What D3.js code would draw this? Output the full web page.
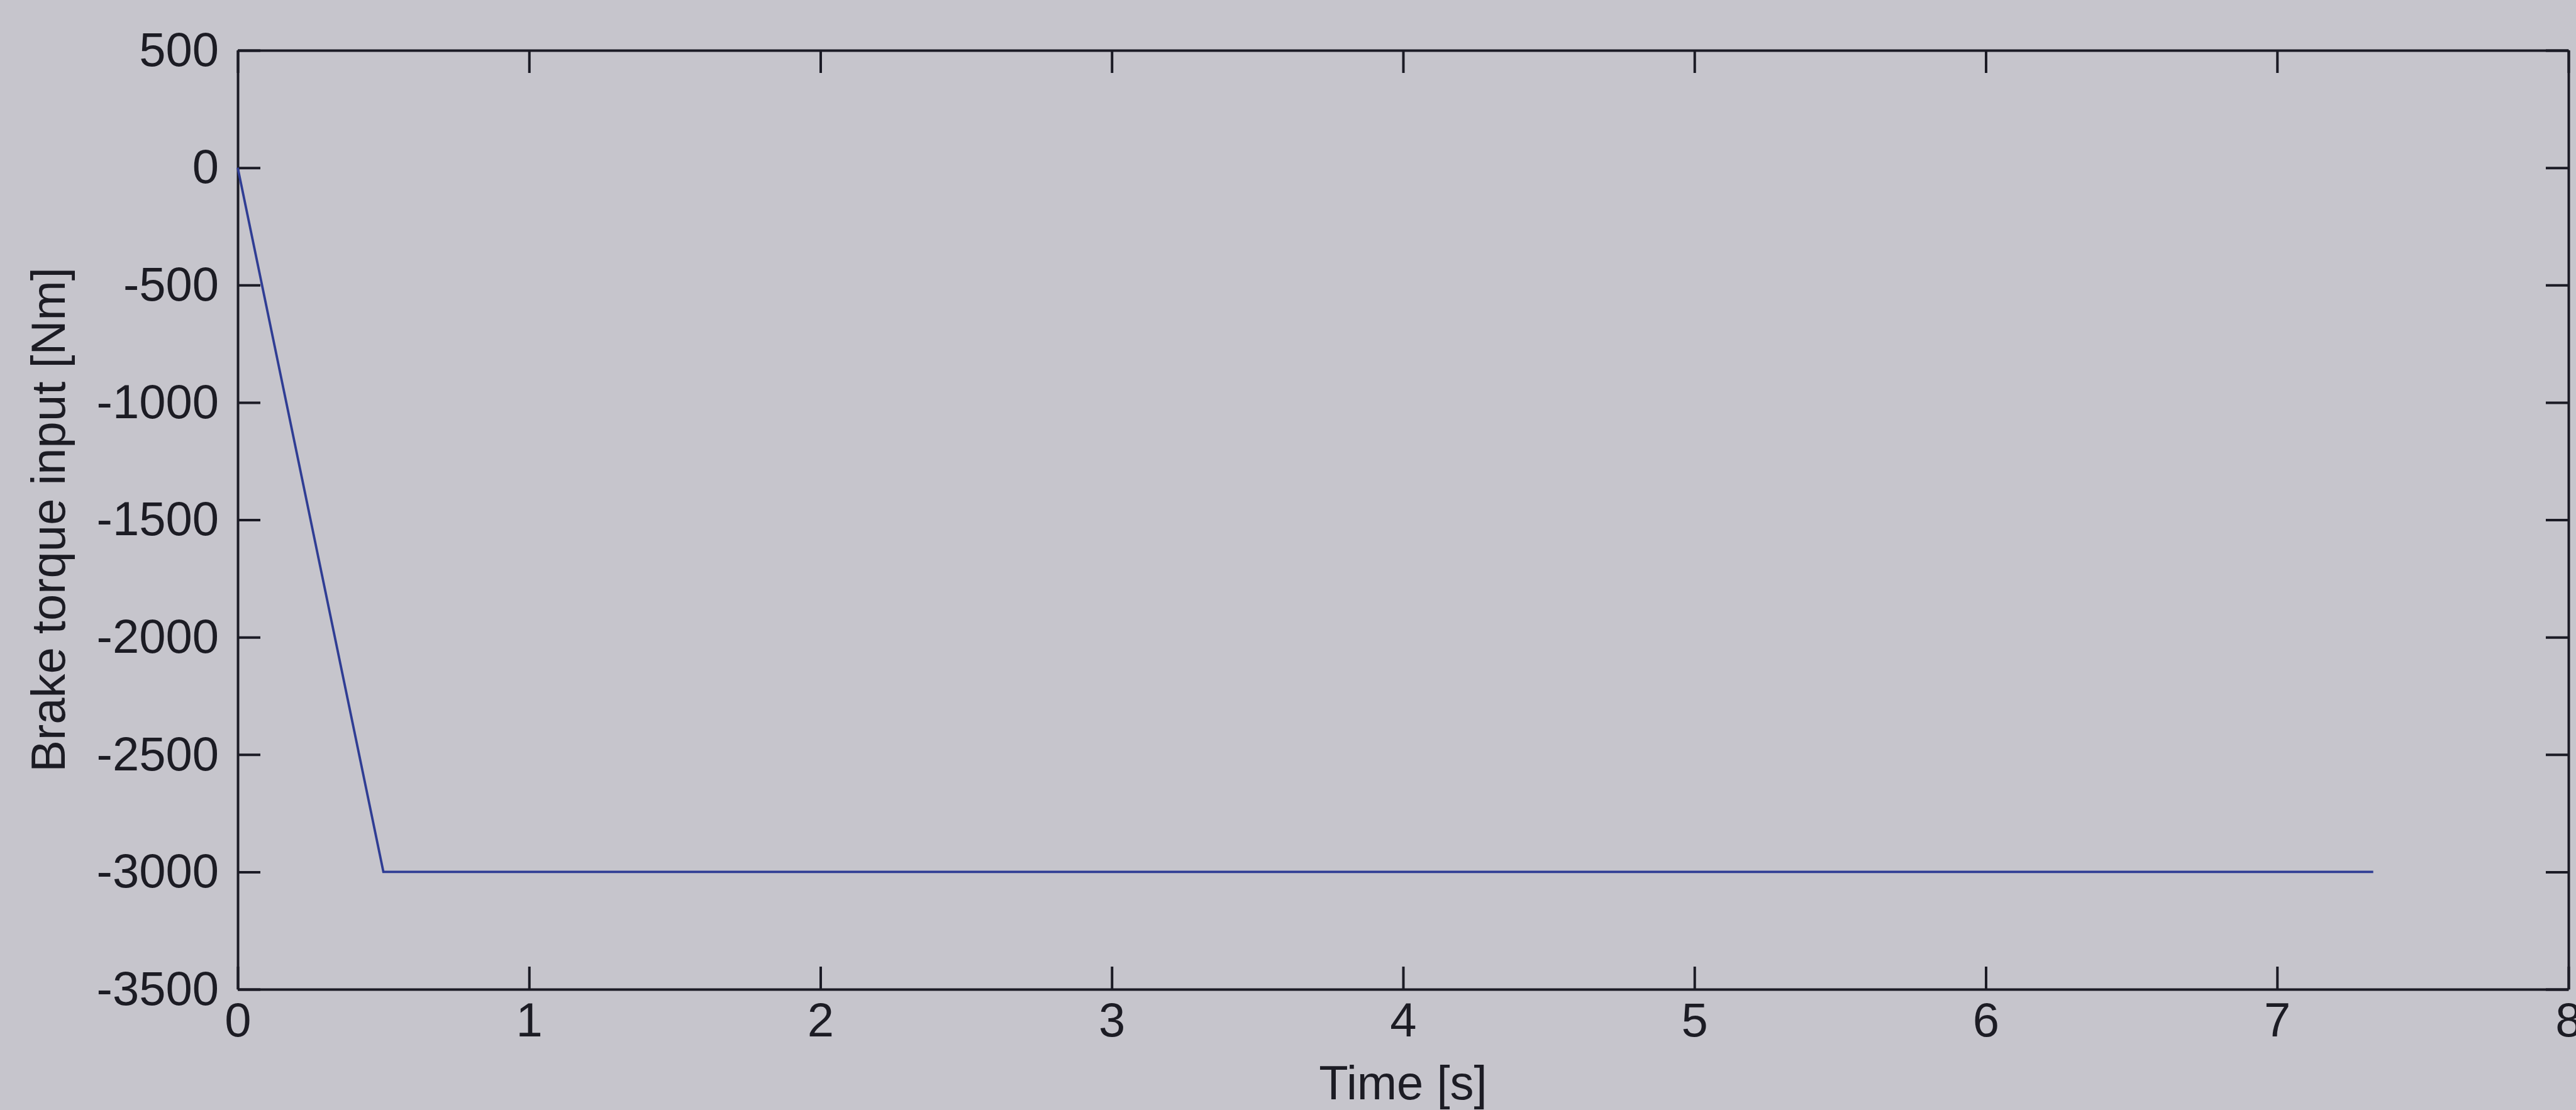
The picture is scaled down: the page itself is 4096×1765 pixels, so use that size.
<!DOCTYPE html>
<html>
<head>
<meta charset="utf-8">
<script src="https://cdn.jsdelivr.net/npm/d3@7"></script>
<style>
  html, body { margin: 0; padding: 0; background: #c6c5cc; }
  svg { display: block; }
  text { font-family: "Liberation Sans", Arial, Helvetica, sans-serif; fill: #1c1c24; }
</style>
</head>
<body>
<script>
// Brake torque input over time
const timeValues   = [0, 0.5, 7.33];       // s
const torqueValues = [0, -3000, -3000];    // Nm
const xTickValues  = [0, 1, 2, 3, 4, 5, 6, 7, 8];
const yTickValues  = [-3500, -3000, -2500, -2000, -1500, -1000, -500, 0, 500];
const xLabel = "Time [s]";
const yLabel = "Brake torque input [Nm]";

const W = 4096, H = 1765;
const margin = { left: 378, right: W - 4084, top: 80, bottom: H - 1573 };
const innerW = W - margin.left - margin.right;
const innerH = H - margin.top - margin.bottom;

const fontSize = 76;
const tickLen = 36;
const axisColor = "#1b1b25";
const axisWidth = 4;

// plain ASCII hyphen for negative numbers
const plainNumber = d => String(d);

const svg = d3.select("body").append("svg")
  .attr("width", W).attr("height", H);

svg.append("rect").attr("width", W).attr("height", H).attr("fill", "#c6c5cc");

const g = svg.append("g").attr("transform", `translate(${margin.left},${margin.top})`);

const x = d3.scaleLinear().domain([0, 8]).range([0, innerW]);
const y = d3.scaleLinear().domain([-3500, 500]).range([innerH, 0]);

function styleAxis(sel) {
  sel.selectAll(".domain").attr("stroke", axisColor).attr("stroke-width", axisWidth);
  sel.selectAll(".tick line").attr("stroke", axisColor).attr("stroke-width", axisWidth);
  sel.selectAll(".tick text")
    .attr("font-size", fontSize)
    .attr("font-family", "Liberation Sans, Arial, sans-serif")
    .attr("fill", "#1c1c24");
}

// Bottom axis with labels, ticks pointing inward
g.append("g")
  .attr("transform", `translate(0,${innerH})`)
  .call(d3.axisBottom(x).tickValues(xTickValues).tickFormat(plainNumber)
    .tickSizeInner(-tickLen).tickSizeOuter(0).tickPadding(21))
  .call(styleAxis);

// Top axis: ticks only
g.append("g")
  .call(d3.axisTop(x).tickValues(xTickValues).tickFormat("")
    .tickSizeInner(-tickLen).tickSizeOuter(0))
  .call(styleAxis);

// Left axis with labels
g.append("g")
  .call(d3.axisLeft(y).tickValues(yTickValues).tickFormat(plainNumber)
    .tickSizeInner(-tickLen).tickSizeOuter(0).tickPadding(30))
  .call(styleAxis);

// Right axis: ticks only
g.append("g")
  .attr("transform", `translate(${innerW},0)`)
  .call(d3.axisRight(y).tickValues(yTickValues).tickFormat("")
    .tickSizeInner(-tickLen).tickSizeOuter(0))
  .call(styleAxis);

// Torque trace
const series = timeValues.map((t, i) => ({ t, v: torqueValues[i] }));
const line = d3.line().x(d => x(d.t)).y(d => y(d.v));
g.append("path")
  .datum(series)
  .attr("fill", "none")
  .attr("stroke", "#2f3d94")
  .attr("stroke-width", 3.8)
  .attr("stroke-linejoin", "miter")
  .attr("d", line);

// Axis titles
svg.append("text")
  .attr("x", margin.left + innerW / 2)
  .attr("y", 1748)
  .attr("text-anchor", "middle")
  .attr("font-size", fontSize)
  .text(xLabel);

svg.append("text")
  .attr("transform", `translate(103,${margin.top + innerH / 2}) rotate(-90)`)
  .attr("text-anchor", "middle")
  .attr("font-size", fontSize)
  .text(yLabel);
</script>
</body>
</html>
